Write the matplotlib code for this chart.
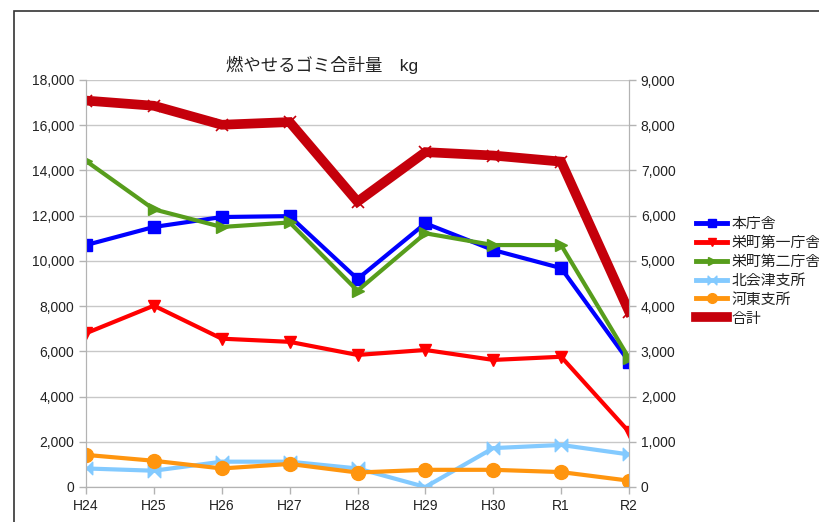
import numpy as np
import matplotlib
matplotlib.use("Agg")
import matplotlib.pyplot as plt
from matplotlib.path import Path
from matplotlib.patches import Rectangle
from matplotlib.lines import Line2D

plt.rcParams['font.family'] = ['Liberation Sans', 'Noto Sans CJK JP', 'DejaVu Sans']

# === Data (kg) ===
years = ['H24', 'H25', 'H26', 'H27', 'H28', 'H29', 'H30', 'R1', 'R2']
honchosha = [5350, 5750, 5970, 5990, 4600, 5830, 5240, 4840, 2770]
sakae1 = [3400, 4010, 3280, 3210, 2920, 3030, 2810, 2880, 1220]
sakae2 = [7210, 6140, 5750, 5850, 4340, 5610, 5350, 5350, 2850]
kitaaizu = [410, 360, 560, 560, 410, 0, 860, 930, 720]
kawahigashi = [710, 580, 410, 510, 320, 380, 380, 330, 140]
total = [17090, 16860, 16020, 16140, 12620, 14810, 14660, 14390, 7760]

x = np.arange(len(years))

# bowtie marker for 北会津支所
bowtie = Path([(-1, -1), (-1, 1), (1, -1), (1, 1), (-1, -1)],
              [Path.MOVETO, Path.LINETO, Path.LINETO, Path.LINETO, Path.CLOSEPOLY])

# (label, values, colour, marker, marker size)
series = [
    ('本庁舎', honchosha, '#0000ff', 's', 9),
    ('栄町第一庁舎', sakae1, '#ff0000', 'v', 9),
    ('栄町第二庁舎', sakae2, '#579d1c', '>', 9),
    ('北会津支所', kitaaizu, '#83caff', bowtie, 9),
    ('河東支所', kawahigashi, '#ff950e', 'o', 10),
]

fig = plt.figure(figsize=(8.19, 5.22), dpi=100)
ax = fig.add_axes([86/819, 1 - 487/522, (629 - 86)/819, (487 - 80)/522])
ax2 = ax.twinx()

# frame around chart
fig.patches.append(Rectangle((14/819, -0.1), 1.2, 1 - 11/522 + 0.1, transform=fig.transFigure,
                             fill=False, edgecolor='#333333', linewidth=1.2))

# total on the left axis
ax.plot(x, total, color='#c5000b', lw=7, marker='x', ms=9, mew=1.2,
        mec='#c5000b', solid_joinstyle='miter', zorder=3)

# components on the right axis
handles = []
for label, vals, col, mk, ms in series:
    ax2.plot(x, vals, color=col, lw=3, marker=mk, ms=ms)
    handles.append(Line2D([], [], color=col, lw=3.5, marker=mk, ms=ms * 0.7, label=label))
handles.append(Line2D([], [], color='#c5000b', lw=7, label='合計'))

ax.set_xlim(0, len(years) - 1)
ax.set_ylim(0, 18000)
ax2.set_ylim(0, 9000)
ax.set_yticks(np.arange(0, 18001, 2000))
ax2.set_yticks(np.arange(0, 9001, 1000))
ax.set_xticks(x)
ax.set_xticklabels(years)
fmt = matplotlib.ticker.StrMethodFormatter('{x:,.0f}')
ax.yaxis.set_major_formatter(fmt)
ax2.yaxis.set_major_formatter(fmt)

ax.grid(axis='y', color='#c8c8c8', lw=1)
ax.set_axisbelow(True)
for a in (ax, ax2):
    for s in a.spines.values():
        s.set_color('#b3b3b3')
    a.spines['top'].set_visible(False)
    a.tick_params(colors='#b3b3b3', labelcolor='#222222', labelsize=10, length=5, width=1)
ax.tick_params(axis='x', pad=4)

fig.text(322/819, 1 - 65/522, '燃やせるゴミ合計量　kg', ha='center', va='center',
         fontsize=12.5, color='#222222')

fig.legend(handles=handles, loc='upper left',
           bbox_to_anchor=(696/819, 1 - 217/522), frameon=False, fontsize=10.7,
           labelspacing=0.33, handlelength=2.1, handletextpad=0.3, borderaxespad=0,
           borderpad=0, labelcolor='#222222')

fig.savefig('out.png', dpi=100)
